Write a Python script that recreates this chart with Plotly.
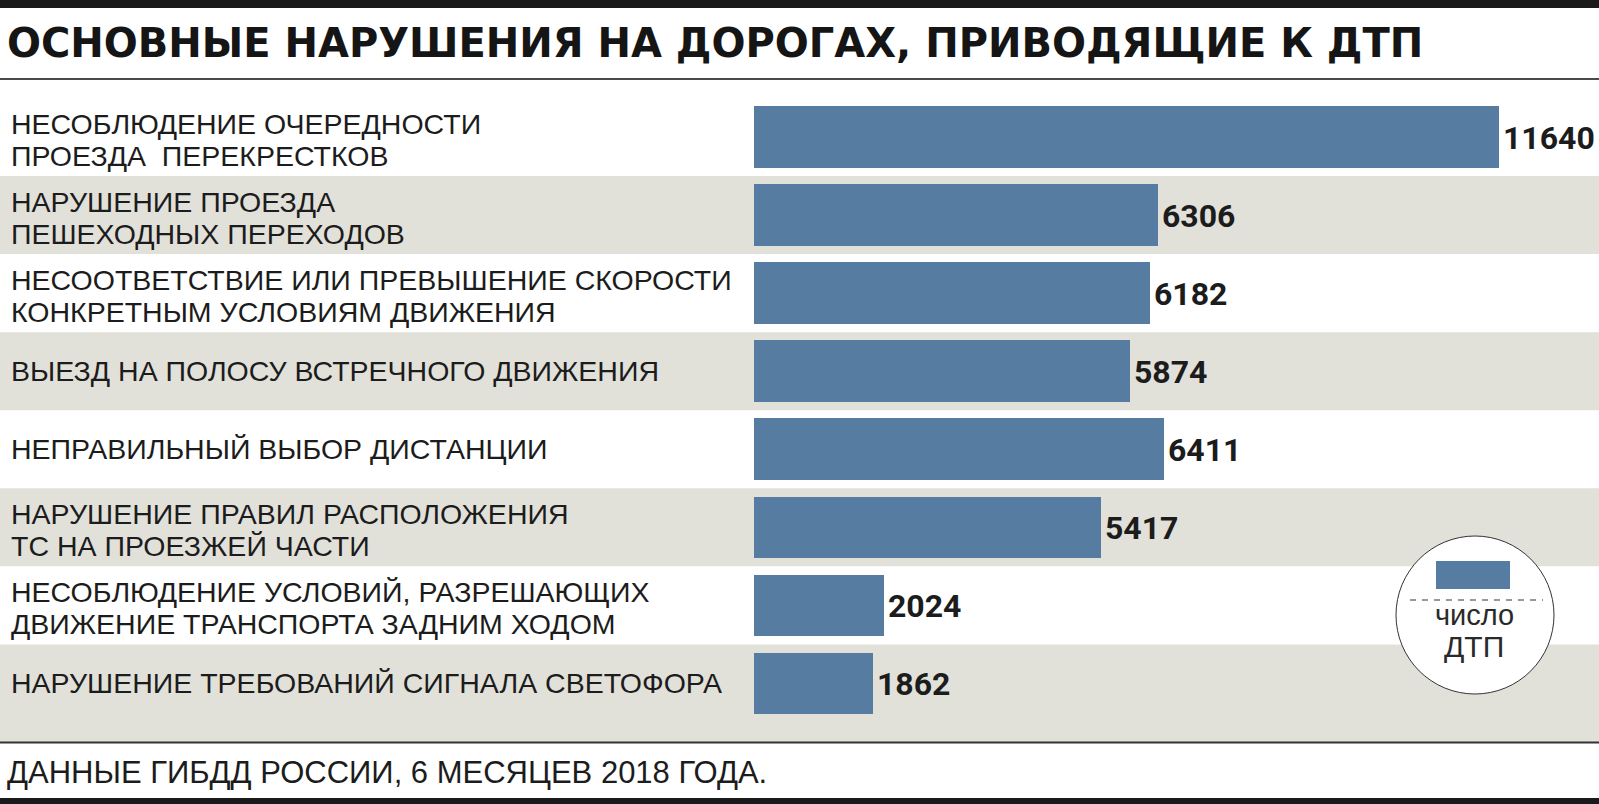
import plotly.graph_objects as go

# ---- data ----
label_lines = [
    ["НЕСОБЛЮДЕНИЕ ОЧЕРЕДНОСТИ", "ПРОЕЗДА\u00a0 ПЕРЕКРЕСТКОВ"],
    ["НАРУШЕНИЕ ПРОЕЗДА", "ПЕШЕХОДНЫХ ПЕРЕХОДОВ"],
    ["НЕСООТВЕТСТВИЕ ИЛИ ПРЕВЫШЕНИЕ СКОРОСТИ", "КОНКРЕТНЫМ УСЛОВИЯМ ДВИЖЕНИЯ"],
    ["ВЫЕЗД НА ПОЛОСУ ВСТРЕЧНОГО ДВИЖЕНИЯ"],
    ["НЕПРАВИЛЬНЫЙ ВЫБОР ДИСТАНЦИИ"],
    ["НАРУШЕНИЕ ПРАВИЛ РАСПОЛОЖЕНИЯ", "ТС НА ПРОЕЗЖЕЙ ЧАСТИ"],
    ["НЕСОБЛЮДЕНИЕ УСЛОВИЙ, РАЗРЕШАЮЩИХ", "ДВИЖЕНИЕ ТРАНСПОРТА ЗАДНИМ ХОДОМ"],
    ["НАРУШЕНИЕ ТРЕБОВАНИЙ СИГНАЛА СВЕТОФОРА"],
]
values = [11640, 6306, 6182, 5874, 6411, 5417, 2024, 1862]
categories = [" ".join(l) for l in label_lines]

title_text = "ОСНОВНЫЕ НАРУШЕНИЯ НА ДОРОГАХ, ПРИВОДЯЩИЕ К ДТП"
source_text = "ДАННЫЕ ГИБДД РОССИИ, 6 МЕСЯЦЕВ 2018 ГОДА."
legend_lines = ["число", "ДТП"]

# ---- style ----
BAR = "#567da1"
STRIPE = "#e1e1da"
INK = "#1c1c1c"
WIDTH, HEIGHT = 1599, 804
L, R, T, B = 754, 100, 98, 62
PW = WIDTH - L - R
PH = HEIGHT - T - B

def xp(px):
    return (px - L) / PW

def yp(py):
    return (HEIGHT - B - py) / PH

n = len(values)
extra = 0.25  # last stripe extends below last row
y_max = n - 0.5 + extra

fig = go.Figure()
fig.add_trace(go.Bar(
    x=values, y=categories, orientation="h",
    marker=dict(color=BAR, line=dict(width=0)),
    width=0.79, hoverinfo="skip",
))

shapes = []
for i in range(n):
    if i % 2 == 1:
        shapes.append(dict(type="rect", xref="paper", yref="y",
                           x0=xp(0), x1=xp(WIDTH), y0=i - 0.5,
                           y1=(i + 0.5) if i < n - 1 else y_max,
                           fillcolor=STRIPE, line=dict(width=0), layer="below"))
shapes += [
    dict(type="rect", xref="paper", yref="paper", x0=xp(0), x1=xp(WIDTH),
         y0=yp(0), y1=yp(8), fillcolor="#1a1a1a", line=dict(width=0)),
    dict(type="rect", xref="paper", yref="paper", x0=xp(0), x1=xp(WIDTH),
         y0=yp(798), y1=yp(805), fillcolor="#1a1a1a", line=dict(width=0)),
    dict(type="line", xref="paper", yref="paper", x0=xp(0), x1=xp(WIDTH),
         y0=yp(79), y1=yp(79), line=dict(color="#4a4a4a", width=2)),
    dict(type="line", xref="paper", yref="paper", x0=xp(0), x1=xp(WIDTH),
         y0=yp(742.5), y1=yp(742.5), line=dict(color="#333333", width=2)),
]
cx, cy, r = 1475, 615, 79
shapes += [
    dict(type="circle", xref="paper", yref="paper",
         x0=xp(cx - r), x1=xp(cx + r), y0=yp(cy + r), y1=yp(cy - r),
         fillcolor="white", line=dict(color="#333333", width=1)),
    dict(type="rect", xref="paper", yref="paper",
         x0=xp(1436), x1=xp(1510), y0=yp(589), y1=yp(561),
         fillcolor=BAR, line=dict(width=0)),
    dict(type="line", xref="paper", yref="paper",
         x0=xp(1410), x1=xp(1543), y0=yp(600), y1=yp(600),
         line=dict(color="#333333", width=1, dash="6px,6px")),
]

annotations = []
LABEL_FONT = dict(family="Liberation Sans, Arial, sans-serif", size=28.5, color=INK)
for i, (lines, cat) in enumerate(zip(label_lines, categories)):
    shifts = [0] if len(lines) == 1 else [13.5, -18.5]
    for line, s in zip(lines, shifts):
        annotations.append(dict(xref="paper", yref="y", x=xp(9), y=cat,
                                text=line, showarrow=False, xanchor="left",
                                yanchor="middle", yshift=s, font=LABEL_FONT))
for v, cat in zip(values, categories):
    annotations.append(dict(xref="x", yref="y", x=v, y=cat, text=str(v),
                            showarrow=False, xanchor="left", yanchor="middle",
                            xshift=3, yshift=-1, borderpad=0,
                            font=dict(family="Roboto, sans-serif",
                                      size=32, color=INK, weight="bold")))
annotations += [
    dict(xref="paper", yref="paper", x=xp(5), y=yp(43), text=title_text,
         showarrow=False, xanchor="left", yanchor="middle",
         font=dict(family="DejaVu Sans, sans-serif", size=40,
                   color="#151515", weight="bold")),
    dict(xref="paper", yref="paper", x=xp(5), y=yp(772), text=source_text,
         showarrow=False, xanchor="left", yanchor="middle",
         font=dict(family="Liberation Sans, Arial, sans-serif", size=31, color=INK)),
    dict(xref="paper", yref="paper", x=xp(1474), y=yp(615), text=legend_lines[0],
         showarrow=False, xanchor="center", yanchor="middle",
         font=dict(family="Liberation Sans, Arial, sans-serif", size=29, color="#2a2a2a")),
    dict(xref="paper", yref="paper", x=xp(1474), y=yp(646), text=legend_lines[1],
         showarrow=False, xanchor="center", yanchor="middle",
         font=dict(family="Liberation Sans, Arial, sans-serif", size=30, color="#2a2a2a")),
]

fig.update_layout(
    width=WIDTH, height=HEIGHT,
    margin=dict(l=L, r=R, t=T, b=B, pad=0),
    paper_bgcolor="white", plot_bgcolor="rgba(0,0,0,0)",
    showlegend=False, bargap=0,
    xaxis=dict(range=[0, max(values)], visible=False, fixedrange=True),
    yaxis=dict(range=[y_max, -0.5], visible=False, type="category",
               categoryorder="array", categoryarray=categories, fixedrange=True),
    shapes=shapes, annotations=annotations,
)
fig.write_html("out.html", config=dict(displayModeBar=False, staticPlot=True))
